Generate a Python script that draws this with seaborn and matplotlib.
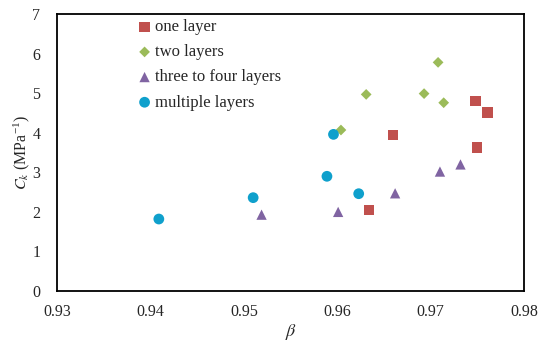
import pandas as pd
import matplotlib.pyplot as plt
import seaborn as sns

sns.set_style('white')
plt.rcParams['font.family'] = ['Liberation Serif', 'DejaVu Serif']
plt.rcParams['mathtext.fontset'] = 'stix'

groups = ['one layer', 'two layers', 'three to four layers', 'multiple layers']

beta_one = [0.9660, 0.9748, 0.9761, 0.9750, 0.9634]
ck_one = [3.95, 4.81, 4.51, 3.63, 2.04]

beta_two = [0.9708, 0.9631, 0.9693, 0.9714, 0.9604]
ck_two = [5.78, 4.97, 4.99, 4.76, 4.07]

beta_three = [0.9732, 0.9710, 0.9662, 0.9601, 0.9519]
ck_three = [3.20, 3.02, 2.47, 2.00, 1.93]

beta_multi = [0.9596, 0.9589, 0.9623, 0.9510, 0.9409]
ck_multi = [3.96, 2.90, 2.46, 2.36, 1.82]

df = pd.DataFrame({
    'beta': beta_one + beta_two + beta_three + beta_multi,
    'ck': ck_one + ck_two + ck_three + ck_multi,
    'group': [groups[0]] * 5 + [groups[1]] * 5 + [groups[2]] * 5 + [groups[3]] * 5,
})

colors = {'one layer': '#C0504D', 'two layers': '#9BBB59',
          'three to four layers': '#8064A2', 'multiple layers': '#0FA0CC'}
markers = {'one layer': 's', 'two layers': 'D',
           'three to four layers': '^', 'multiple layers': 'o'}
sizes = {'one layer': 55, 'two layers': 30, 'three to four layers': 55, 'multiple layers': 60}

fig = plt.figure(figsize=(5.38, 3.44), dpi=100)
ax = fig.add_axes([0.106, 0.154, 0.868, 0.805])

for g in groups:
    sub = df[df['group'] == g]
    sns.scatterplot(data=sub, x='beta', y='ck', color=colors[g], marker=markers[g],
                    s=sizes[g], edgecolor='none', label=g, ax=ax)

ax.set_xlim(0.93, 0.98)
ax.set_ylim(0, 7)
ax.set_xticks([0.93, 0.94, 0.95, 0.96, 0.97, 0.98])
ax.set_xticklabels(['0.93', '0.94', '0.95', '0.96', '0.97', '0.98'])
ax.set_yticks(range(8))
ax.tick_params(direction='in', length=4, width=1, labelsize=11.5, color='black')
ax.tick_params(axis='x', pad=9)
ax.tick_params(axis='y', pad=12)
for sp in ax.spines.values():
    sp.set_color('black')
    sp.set_linewidth(1.3)

ax.set_xlabel(r'$\beta$', fontsize=13, labelpad=2)
ax.set_ylabel(r'$C_k$ (MPa$^{\mathregular{-1}}$)', fontsize=11.5, labelpad=0)

leg = ax.legend(loc='upper left', bbox_to_anchor=(0.15, 1.015), frameon=False,
                fontsize=12, handletextpad=0.1, labelspacing=0.55,
                handlelength=1.0, borderaxespad=0.15)

fig.savefig('out.png', dpi=100)
